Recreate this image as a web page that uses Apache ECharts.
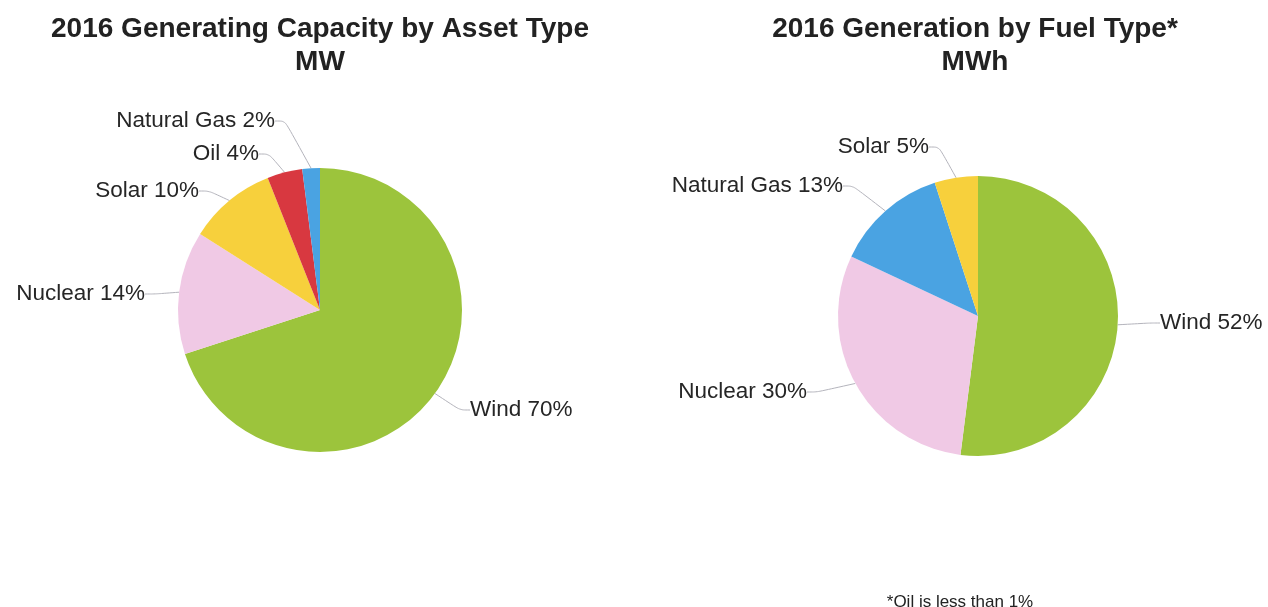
<!DOCTYPE html>
<html>
<head>
<meta charset="utf-8">
<script src="https://cdn.jsdelivr.net/npm/echarts@6/dist/echarts.min.js"></script>
<style>html,body{margin:0;padding:0;background:#fff}#c{width:1268px;height:607px}</style>
</head>
<body>
<div id="c"></div>
<script>
// Data
const capCategories = ['Wind', 'Nuclear', 'Solar', 'Oil', 'Natural Gas'];
const capValues = [70, 14, 10, 4, 2];
const genCategories = ['Wind', 'Nuclear', 'Natural Gas', 'Solar'];
const genValues = [52, 30, 13, 5];
const titles = ['2016 Generating Capacity by Asset Type\nMW', '2016 Generation by Fuel Type*\nMWh'];
const footnote = '*Oil is less than 1%';

const colorMap = {
  'Wind': '#9cc43c',
  'Nuclear': '#f0c9e5',
  'Solar': '#f7d03c',
  'Oil': '#d83840',
  'Natural Gas': '#4aa3e2'
};

// label placement (style)
const capLabelPos = {
  'Wind': {x: 470, y: 410, align: 'left'},
  'Nuclear': {x: 145, y: 294, align: 'right'},
  'Solar': {x: 199, y: 191, align: 'right'},
  'Oil': {x: 259, y: 154, align: 'right'},
  'Natural Gas': {x: 275, y: 121, align: 'right'}
};
const genLabelPos = {
  'Wind': {x: 1160, y: 323, align: 'left'},
  'Nuclear': {x: 807, y: 392, align: 'right'},
  'Natural Gas': {x: 843, y: 186, align: 'right'},
  'Solar': {x: 929, y: 147, align: 'right'}
};

function toData(cats, vals) {
  return cats.map((c, i) => ({name: c, value: vals[i], itemStyle: {color: colorMap[c]}}));
}

const chart = echarts.init(document.getElementById('c'), null, {renderer: 'canvas'});
const textFont = '"Liberation Sans", Arial, sans-serif';

function pieSeries(cats, vals, center, radius, posMap) {
  return {
    type: 'pie',
    center: center,
    radius: radius,
    startAngle: 90,
    clockwise: true,
    animation: false,
    silent: true,
    data: toData(cats, vals),
    itemStyle: {borderWidth: 0},
    label: {
      show: true,
      formatter: '{b} {c}%',
      fontFamily: textFont,
      fontSize: 22.5,
      color: '#262626'
    },
    labelLine: {
      show: true,
      length: 10,
      length2: 10,
      smooth: 0.3,
      lineStyle: {color: '#b4b4bc', width: 1}
    },
    labelLayout: function (p) {
      const pos = posMap[cats[p.dataIndex]];
      return {x: pos.x, y: pos.y, align: pos.align, verticalAlign: 'middle'};
    }
  };
}

const option = {
  backgroundColor: '#ffffff',
  title: [
    {
      text: titles[0], left: 315, top: 8, textAlign: 'center',
      textStyle: {fontFamily: textFont, fontSize: 28, fontWeight: 'bold', color: '#222222', lineHeight: 33}
    },
    {
      text: titles[1], left: 970, top: 8, textAlign: 'center',
      textStyle: {fontFamily: textFont, fontSize: 28, fontWeight: 'bold', color: '#222222', lineHeight: 33}
    },
    {
      text: footnote, left: 955, top: 589, textAlign: 'center',
      textStyle: {fontFamily: textFont, fontSize: 17, fontWeight: 'normal', color: '#222222'}
    }
  ],
  series: [
    pieSeries(capCategories, capValues, [320, 310], 142, capLabelPos),
    pieSeries(genCategories, genValues, [978, 316], 140, genLabelPos)
  ]
};
chart.setOption(option);
</script>
</body>
</html>
